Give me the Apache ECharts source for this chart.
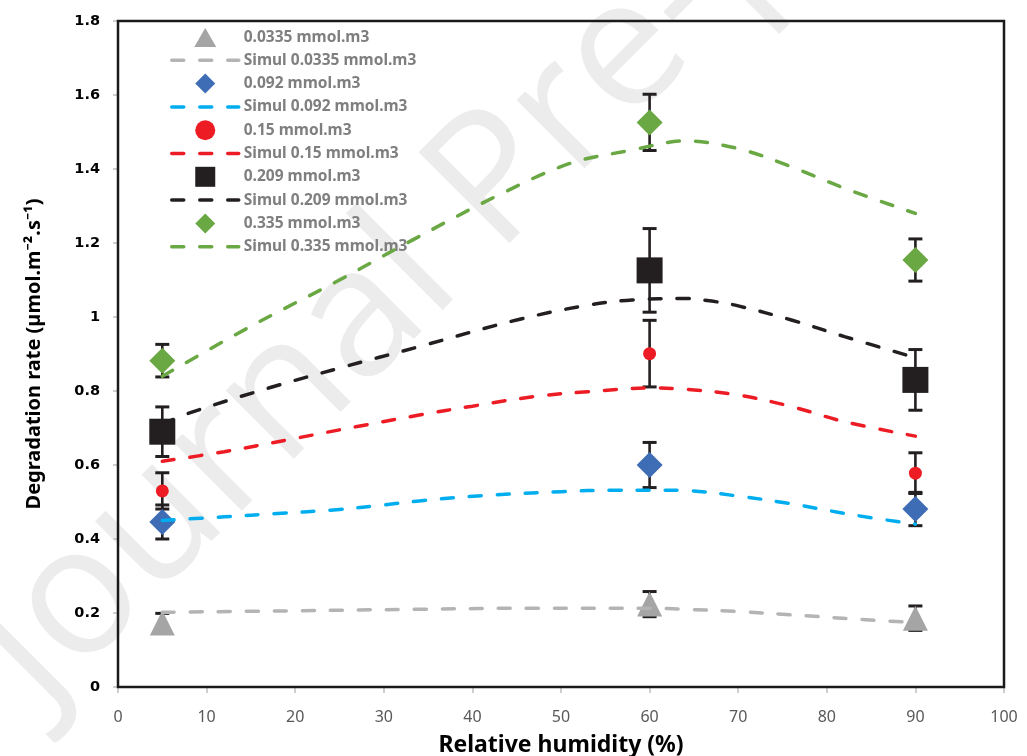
<!DOCTYPE html>
<html><head><meta charset="utf-8">
<script src="https://cdn.jsdelivr.net/npm/echarts@6/dist/echarts.min.js"></script>
<style>html,body{margin:0;padding:0;background:#fff}#c{width:1027px;height:756px}</style>
</head><body><div id="c"></div>
<script>
// Relative humidity (%) of the measured points
const rhPoints = [5, 60, 90];

// Measured degradation rates and error half-widths
const exp0335 = [0.173, 0.224, 0.186];
const err0335 = [0.026, 0.034, 0.033];
const exp092 = [0.446, 0.600, 0.481];
const err092 = [0.046, 0.061, 0.045];
const exp15 = [0.530, 0.901, 0.578];
const err15 = [0.049, 0.090, 0.055];
const exp209 = [0.690, 1.126, 0.830];
const err209 = [0.067, 0.113, 0.082];
const exp335 = [0.882, 1.526, 1.154];
const err335 = [0.044, 0.076, 0.057];

// Simulated curves [RH, rate]
const sim0335 = [[5,0.202],[20,0.206],[34,0.210],[47,0.213],[60,0.213],[64,0.210],[70,0.204],[76,0.195],[83,0.184],[90,0.174]];
const sim092 = [[5,0.450],[12,0.460],[18,0.469],[24,0.478],[30,0.492],[34,0.503],[41,0.517],[50,0.528],[56,0.532],[60,0.532],[64,0.531],[70,0.516],[76,0.495],[83,0.465],[90,0.440]];
const sim15 = [[5,0.610],[12,0.636],[20,0.672],[27,0.704],[34,0.735],[40,0.759],[47,0.785],[53,0.798],[60,0.808],[64,0.805],[70,0.789],[76,0.758],[82,0.717],[90,0.678]];
const sim209 = [[5,0.710],[8,0.740],[17,0.808],[25,0.862],[34,0.920],[45,0.992],[53,1.032],[58,1.046],[64,1.050],[67,1.043],[70,1.030],[76,0.992],[82,0.947],[90,0.890]];
const sim335 = [[5,0.840],[15,0.975],[25,1.100],[33,1.205],[43,1.330],[51,1.415],[58,1.451],[64,1.476],[70,1.455],[76,1.406],[82,1.348],[90,1.280]];

const legendNames = ['0.0335 mmol.m3','Simul 0.0335 mmol.m3','0.092 mmol.m3','Simul 0.092 mmol.m3','0.15 mmol.m3','Simul 0.15 mmol.m3','0.209 mmol.m3','Simul 0.209 mmol.m3','0.335 mmol.m3','Simul 0.335 mmol.m3'];

const xAxisTitle = 'Relative humidity (%)';
const yAxisTitle = 'Degradation rate (µmol.m⁻².s⁻¹)';
const watermarkText = 'Journal Pre-proof';

// legend marker icons: shape centred in a 67x20 box (end points only fix the box)
const BOX = 'M0,10L0,10M67,10L67,10';
const ICON = {
  triangle: 'path://' + BOX + 'M22.5,19.5L33.5,0.5L44.5,19.5Z',
  diamond: 'path://' + BOX + 'M33.5,0L43.5,10L33.5,20L23.5,10Z',
  circle: 'path://' + BOX + 'M23.5,10A10,10,0,1,1,43.5,10A10,10,0,1,1,23.5,10Z',
  rect: 'path://' + BOX + 'M23.5,0L43.5,0L43.5,20L23.5,20Z'
};
const legendIcons = ['triangle', null, 'diamond', null, 'circle', null, 'rect', null, 'diamond', null];
const DASH = [12, 16];

function pts(ys){ return rhPoints.map((x,i)=>[x, ys[i]]); }
function errPts(ys, es){ return rhPoints.map((x,i)=>[x, ys[i], es[i]]); }

function errRender(params, api){
  const x = api.value(0), y = api.value(1), e = api.value(2);
  const top = api.coord([x, y + e]), bot = api.coord([x, y - e]);
  const hw = 7;
  const st = {stroke:'#231f20', lineWidth:2.6};
  const cs = {stroke:'#231f20', lineWidth:3};
  return {type:'group', children:[
    {type:'line', shape:{x1:top[0],y1:top[1],x2:bot[0],y2:bot[1]}, style:st},
    {type:'line', shape:{x1:top[0]-hw,y1:top[1],x2:top[0]+hw,y2:top[1]}, style:cs},
    {type:'line', shape:{x1:bot[0]-hw,y1:bot[1],x2:bot[0]+hw,y2:bot[1]}, style:cs}
  ]};
}
function errSeries(ys, es){
  return {type:'custom', renderItem: errRender, data: errPts(ys, es), encode:{x:0,y:1}, silent:true, z:2};
}
function scatter(name, ys, symbol, size, color){
  return {name, type:'scatter', data: pts(ys), symbol, symbolSize: size, itemStyle:{color, opacity:1}, z:3};
}
function sim(name, data, color){
  return {name, type:'line', data, smooth:0.35, symbol:'none', showSymbol:false,
    lineStyle:{color, width:3.5, type:DASH, cap:'round', opacity:1}, itemStyle:{color}, z:4};
}

const chart = echarts.init(document.getElementById('c'), null, {renderer:'canvas'});
chart.setOption({
  animation:false,
  backgroundColor:'#fff',
  graphic:[{
    type:'text', z:-10, x:6, y:674, rotation: 45*Math.PI/180,
    style:{text:watermarkText, fontSize:180, fontFamily:'Open Sans', fontWeight:400, fill:'#ececec', textVerticalAlign:'middle', textAlign:'left'}
  }],
  grid:{left:118, right:23, top:21, bottom:69, show:true, borderColor:'#1a1a1a', borderWidth:2.5,
    backgroundColor:'transparent', z:1, containLabel:false, outerBoundsMode:'none'},
  legend:{
    orient:'vertical', left:170, top:28, padding:0, itemWidth:67, itemHeight:20, itemGap:5.3,
    data: legendNames.map((n,i)=> legendIcons[i]
      ? {name:n, icon:ICON[legendIcons[i]]}
      : {name:n, itemStyle:{opacity:0}, lineStyle:{width:3.5, type:DASH, cap:'round'}}),
    textStyle:{color:'#7f7f7f', fontWeight:'bold', fontSize:15.5, fontFamily:'Noto Sans'},
    selectedMode:false
  },
  xAxis:{
    type:'value', min:0, max:100, interval:10,
    axisLine:{show:true, lineStyle:{color:'#a6a6a6', width:2}},
    axisTick:{show:true, length:6, lineStyle:{color:'#bfbfbf', width:1.5}},
    axisLabel:{color:'#595959', fontSize:16, fontFamily:'Noto Sans', margin:22},
    splitLine:{show:false},
    name: xAxisTitle, nameLocation:'middle', nameGap:47,
    nameTextStyle:{color:'#000', fontWeight:'bold', fontSize:23, fontFamily:'Noto Sans'}
  },
  yAxis:{
    type:'value', min:0, max:1.8, interval:0.2,
    axisLine:{show:true, lineStyle:{color:'#a6a6a6', width:2}},
    axisTick:{show:true, length:5, lineStyle:{color:'#bfbfbf', width:1.5}},
    axisLabel:{color:'#000', fontSize:14.5, fontWeight:'bold', fontFamily:'DejaVu Sans', margin:18},
    splitLine:{show:false},
    name: yAxisTitle, nameLocation:'middle', nameGap:74, nameRotate:90,
    nameTextStyle:{color:'#000', fontWeight:'bold', fontSize:20, fontFamily:'Noto Sans'}
  },
  series:[
    errSeries(exp0335, err0335),
    scatter(legendNames[0], exp0335, 'triangle', 25, '#a5a5a5'),
    sim(legendNames[1], sim0335, '#b4b4b4'),
    errSeries(exp092, err092),
    scatter(legendNames[2], exp092, 'diamond', 26, '#3f6db5'),
    sim(legendNames[3], sim092, '#00aeef'),
    errSeries(exp15, err15),
    scatter(legendNames[4], exp15, 'circle', 13, '#ed1c24'),
    sim(legendNames[5], sim15, '#ed1c24'),
    errSeries(exp209, err209),
    scatter(legendNames[6], exp209, 'rect', 26, '#231f20'),
    sim(legendNames[7], sim209, '#231f20'),
    errSeries(exp335, err335),
    scatter(legendNames[8], exp335, 'diamond', 26, '#6aa844'),
    sim(legendNames[9], sim335, '#6aa844')
  ]
});
</script></body></html>
